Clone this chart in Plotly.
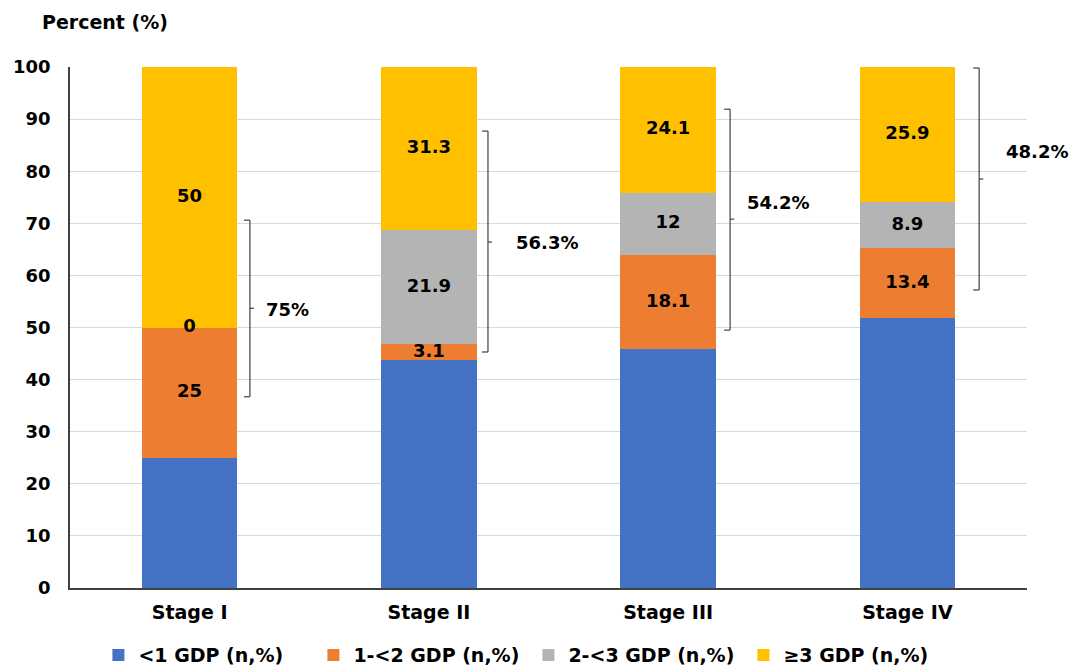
import plotly.graph_objects as go

# Stacked share of patients by GDP band within each stage
stages = ["Stage I", "Stage II", "Stage III", "Stage IV"]
series_names = ["<1 GDP (n,%)", "1-<2 GDP (n,%)", "2-<3 GDP (n,%)", "≥3 GDP (n,%)"]
lt1_gdp = [25, 43.7, 45.8, 51.8]
gdp_1_2 = [25, 3.1, 18.1, 13.4]
gdp_2_3 = [0, 21.9, 12, 8.9]
ge3_gdp = [50, 31.3, 24.1, 25.9]
y_ticks = [0, 10, 20, 30, 40, 50, 60, 70, 80, 90, 100]

series_values = [lt1_gdp, gdp_1_2, gdp_2_3, ge3_gdp]
colors = ["#4472C4", "#ED7D31", "#B4B4B4", "#FFC000"]
labelled = [False, True, True, True]

FONT = "DejaVu Sans"
FS = 18
FS_BIG = 19

fig = go.Figure()
for name, vals, col in zip(series_names, series_values, colors):
    fig.add_trace(go.Bar(
        x=stages, y=vals, name=name, marker=dict(color=col, line=dict(width=0)),
        width=0.4,
    ))

# Segment value labels placed at the middle of each stacked segment
base = [0.0] * len(stages)
for vals, show in zip(series_values, labelled):
    mids = [b + v / 2 for b, v in zip(base, vals)]
    if show:
        fig.add_trace(go.Scatter(
            x=stages, y=mids, mode="text", text=[f"{v:g}" for v in vals],
            textfont=dict(family=FONT, size=FS, color="#000000", weight="bold"),
            showlegend=False, hoverinfo="skip", cliponaxis=False,
        ))
    base = [b + v for b, v in zip(base, vals)]

# Brackets grouping the three upper bands, with their combined share
# (line x, top, bottom, middle tick, label x, label y)
brackets = [
    (0.252, 70.6, 36.7, 53.7, 0.41, 53.4),
    (1.247, 87.7, 45.3, 66.4, 1.494, 66.4),
    (2.259, 91.9, 49.5, 70.8, 2.459, 73.9),
    (3.30, 99.8, 57.2, 78.5, 3.542, 83.7),
]
upper_share = [a + b + c for a, b, c in zip(gdp_1_2, gdp_2_3, ge3_gdp)]
line_style = dict(color="#404040", width=1.2)
for (bx, top, bot, mid, lx, ly), share in zip(brackets, upper_share):
    for shape in [
        dict(x0=bx, x1=bx, y0=bot, y1=top),
        dict(x0=bx - 0.025, x1=bx, y0=top, y1=top),
        dict(x0=bx - 0.025, x1=bx, y0=bot, y1=bot),
        dict(x0=bx, x1=bx + 0.017, y0=mid, y1=mid),
    ]:
        fig.add_shape(type="line", xref="x", yref="y", line=line_style, **shape)
    # category index -> paper fraction so labels right of the last bar stay visible
    fig.add_annotation(
        x=(lx + 0.5) / len(stages), y=ly, xref="paper", yref="y",
        xanchor="center", yanchor="middle",
        text=f"{round(share, 1):g}%", showarrow=False,
        font=dict(family=FONT, size=FS, color="#000000", weight="bold"),
    )

fig.add_annotation(
    x=(40 - 70) / 957, y=(588 - 22) / 521, xref="paper", yref="paper",
    text="Percent (%)", showarrow=False, xanchor="left", yanchor="middle",
    font=dict(family=FONT, size=FS_BIG, color="#000000", weight="bold"),
)

fig.update_layout(
    width=1072, height=668,
    margin=dict(l=70, r=45, t=67, b=80, autoexpand=False),
    barmode="stack",
    plot_bgcolor="#FFFFFF", paper_bgcolor="#FFFFFF",
    font=dict(family=FONT, size=FS, color="#000000"),
    legend=dict(
        orientation="h", x=0.479, xanchor="center", y=-0.129, yanchor="middle",
        font=dict(family=FONT, size=FS_BIG, color="#000000", weight="bold"),
        traceorder="normal", entrywidth=170, entrywidthmode="pixels",
    ),
)
fig.update_xaxes(
    range=[-0.5, 3.5], showline=True, linecolor="#404040", linewidth=1.5,
    showgrid=False, ticks="", tickfont=dict(family=FONT, size=FS_BIG, color="#000000", weight="bold"),
    ticklabelstandoff=6,
)
fig.update_yaxes(
    range=[0, 100], tickvals=y_ticks, showline=True, linecolor="#404040", linewidth=1.5,
    gridcolor="#D9D9D9", gridwidth=1.2, zeroline=False, ticks="",
    tickfont=dict(family=FONT, size=FS, color="#000000", weight="bold"),
    ticklabelstandoff=14,
)

fig.write_html("out.html")
